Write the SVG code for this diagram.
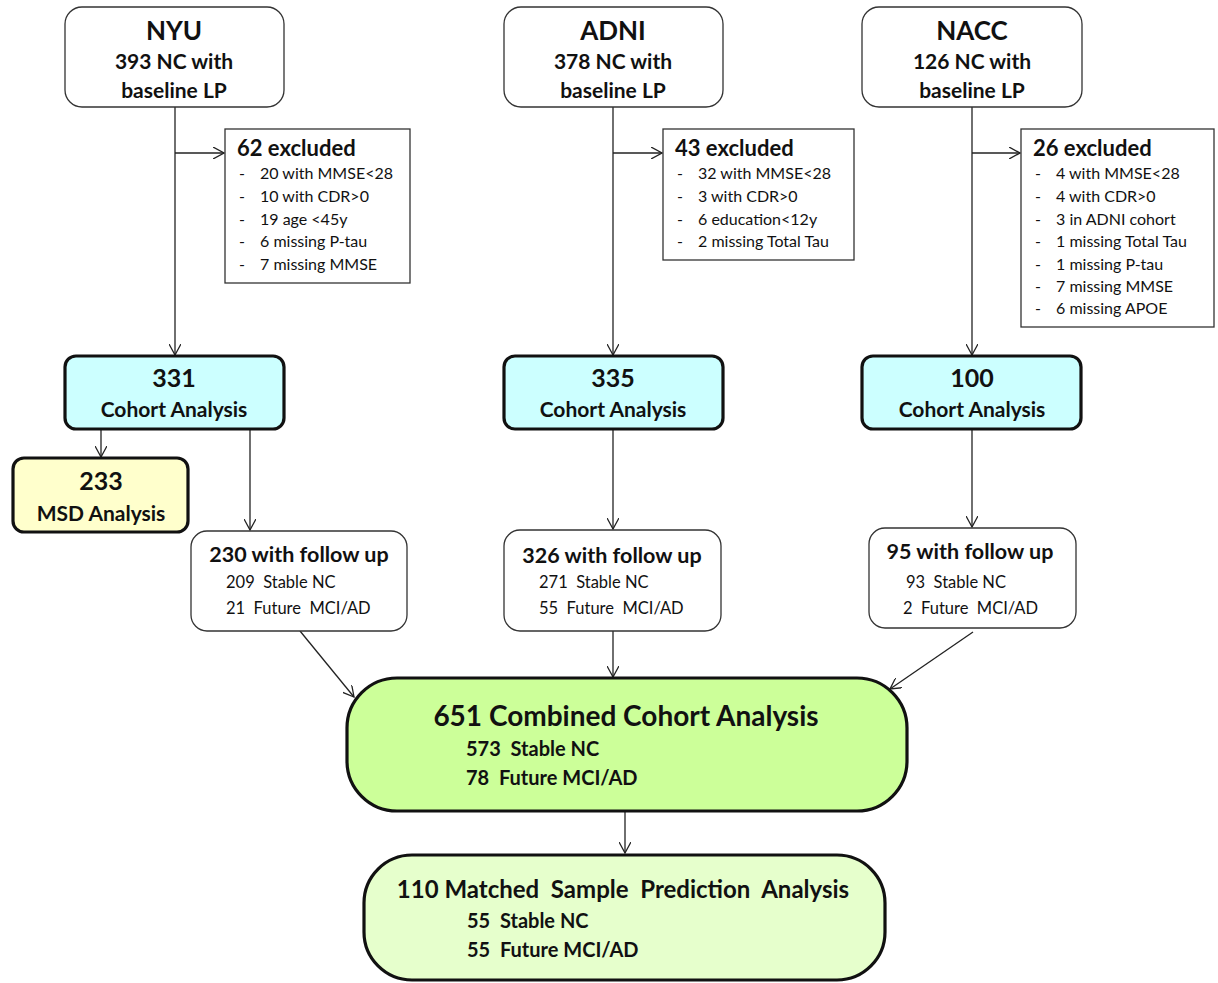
<svg xmlns="http://www.w3.org/2000/svg" width="1218" height="983" viewBox="0 0 1218 983">
<defs>
<marker id="arr" viewBox="0 0 12 12" refX="11" refY="6" markerWidth="12" markerHeight="12" markerUnits="userSpaceOnUse" orient="auto">
<path d="M0,0 L11,6 L0,12" fill="none" stroke="#222" stroke-width="1.3"/>
</marker>
<style>
text{font-family:Lato,"Liberation Sans",sans-serif;fill:#111;white-space:pre}
.b{font-weight:bold}
.thin{fill:#fff;stroke:#333;stroke-width:1.3}
.thick{stroke:#111;stroke-width:3.2}
.c{text-anchor:middle}
.t1{font-size:26px;font-weight:bold}
.t2{font-size:21px;font-weight:bold}
.t3{font-size:22px;font-weight:bold}
.it{font-size:16px}
.fu{font-size:16.5px}
.con{fill:none;stroke:#222;stroke-width:1.3;marker-end:url(#arr)}
.ln{fill:none;stroke:#222;stroke-width:1.3}
</style>
</defs>
<rect width="1218" height="983" fill="#fff"/>

<g id="connectors">
<line class="ln" x1="175" y1="107" x2="175" y2="153"/>
<line class="con" x1="175" y1="153" x2="175" y2="355"/>
<line class="con" x1="175" y1="153" x2="224" y2="153"/>
<line class="ln" x1="613" y1="107" x2="613" y2="153"/>
<line class="con" x1="613" y1="153" x2="613" y2="355"/>
<line class="con" x1="613" y1="153" x2="662" y2="153"/>
<line class="ln" x1="972" y1="107" x2="972" y2="153"/>
<line class="con" x1="972" y1="153" x2="972" y2="355"/>
<line class="con" x1="972" y1="153" x2="1020" y2="153"/>
<line class="con" x1="101" y1="429" x2="101" y2="457"/>
<line class="con" x1="250" y1="429" x2="250" y2="530"/>
<line class="con" x1="613" y1="429" x2="613" y2="529"/>
<line class="con" x1="972" y1="429" x2="972" y2="527"/>
<line class="con" x1="300" y1="631" x2="354" y2="697"/>
<line class="con" x1="613" y1="631" x2="613" y2="677"/>
<line class="con" x1="973" y1="632" x2="890" y2="689"/>
<line class="con" x1="625" y1="811" x2="625" y2="853"/>
</g>

<g id="nyu">
<rect class="thin" x="65" y="7" width="219" height="100" rx="17"/>
<text class="c t1" x="174" y="40">NYU</text>
<text class="c t2" x="174" y="69">393 NC with</text>
<text class="c t2" x="174" y="98">baseline LP</text>
</g>
<g id="adni">
<rect class="thin" x="504" y="7" width="219" height="100" rx="17"/>
<text class="c t1" x="613" y="40">ADNI</text>
<text class="c t2" x="613" y="69">378 NC with</text>
<text class="c t2" x="613" y="98">baseline LP</text>
</g>
<g id="nacc">
<rect class="thin" x="862" y="7" width="220" height="100" rx="17"/>
<text class="c t1" x="972" y="40">NACC</text>
<text class="c t2" x="972" y="69">126 NC with</text>
<text class="c t2" x="972" y="98">baseline LP</text>
</g>

<g id="nyu-excl">
<rect class="thin" x="225" y="129" width="185" height="154"/>
<text class="t3" x="237" y="156">62 excluded</text>
<g class="it">
<text x="239" y="179">-</text><text x="260" y="179">20 with MMSE&lt;28</text>
<text x="239" y="202">-</text><text x="260" y="202">10 with CDR&gt;0</text>
<text x="239" y="225">-</text><text x="260" y="225">19 age &lt;45y</text>
<text x="239" y="247">-</text><text x="260" y="247">6 missing P-tau</text>
<text x="239" y="270">-</text><text x="260" y="270">7 missing MMSE</text>
</g>
</g>
<g id="adni-excl">
<rect class="thin" x="663" y="129" width="191" height="131"/>
<text class="t3" x="675" y="156">43 excluded</text>
<g class="it">
<text x="677" y="179">-</text><text x="698" y="179">32 with MMSE&lt;28</text>
<text x="677" y="202">-</text><text x="698" y="202">3 with CDR&gt;0</text>
<text x="677" y="225">-</text><text x="698" y="225">6 education&lt;12y</text>
<text x="677" y="247">-</text><text x="698" y="247">2 missing Total Tau</text>
</g>
</g>
<g id="nacc-excl">
<rect class="thin" x="1021" y="129" width="193" height="198"/>
<text class="t3" x="1033" y="156">26 excluded</text>
<g class="it">
<text x="1035" y="179">-</text><text x="1056" y="179">4 with MMSE&lt;28</text>
<text x="1035" y="202">-</text><text x="1056" y="202">4 with CDR&gt;0</text>
<text x="1035" y="225">-</text><text x="1056" y="225">3 in ADNI cohort</text>
<text x="1035" y="247">-</text><text x="1056" y="247">1 missing Total Tau</text>
<text x="1035" y="270">-</text><text x="1056" y="270">1 missing P-tau</text>
<text x="1035" y="292">-</text><text x="1056" y="292">7 missing MMSE</text>
<text x="1035" y="314">-</text><text x="1056" y="314">6 missing APOE</text>
</g>
</g>

<g id="nyu-cohort">
<rect class="thick" fill="#ccffff" x="65" y="356" width="219" height="73" rx="11"/>
<text class="c b" x="174" y="387" font-size="25">331</text>
<text class="c b" x="174" y="417" font-size="21">Cohort Analysis</text>
</g>
<g id="adni-cohort">
<rect class="thick" fill="#ccffff" x="504" y="356" width="219" height="73" rx="11"/>
<text class="c b" x="613" y="387" font-size="25">335</text>
<text class="c b" x="613" y="417" font-size="21">Cohort Analysis</text>
</g>
<g id="nacc-cohort">
<rect class="thick" fill="#ccffff" x="862" y="356" width="219" height="73" rx="11"/>
<text class="c b" x="972" y="387" font-size="25">100</text>
<text class="c b" x="972" y="417" font-size="21">Cohort Analysis</text>
</g>

<g id="msd">
<rect class="thick" fill="#ffffcc" x="13" y="458" width="175" height="74" rx="11"/>
<text class="c b" x="101" y="490" font-size="25">233</text>
<text class="c b" x="101" y="521" font-size="21">MSD Analysis</text>
</g>

<g id="nyu-fu">
<rect class="thin" x="191" y="531" width="216" height="100" rx="16"/>
<text class="c b" x="299" y="562" font-size="21.5">230 with follow up</text>
<text class="fu" x="226" y="588">209  Stable NC</text>
<text class="fu" x="226" y="614">21  Future  MCI/AD</text>
</g>
<g id="adni-fu">
<rect class="thin" x="504" y="530" width="217" height="101" rx="16"/>
<text class="c b" x="612" y="563" font-size="21.5">326 with follow up</text>
<text class="fu" x="539" y="588">271  Stable NC</text>
<text class="fu" x="539" y="614">55  Future  MCI/AD</text>
</g>
<g id="nacc-fu">
<rect class="thin" x="869" y="528" width="207" height="100" rx="16"/>
<text class="c b" x="970" y="559" font-size="21.5">95 with follow up</text>
<text class="fu" x="906" y="588">93  Stable NC</text>
<text class="fu" x="903" y="614">2  Future  MCI/AD</text>
</g>

<g id="combined">
<rect class="thick" fill="#ccff99" x="347" y="678" width="560" height="133" rx="50"/>
<text class="c b" x="626" y="726" font-size="28">651 Combined Cohort Analysis</text>
<text class="b" x="466" y="756" font-size="20">573  Stable NC</text>
<text class="b" x="466" y="785" font-size="20">78  Future MCI/AD</text>
</g>

<g id="matched">
<rect class="thick" fill="#e6ffcc" x="364" y="855" width="521" height="125" rx="48"/>
<text class="c b" x="623" y="898" font-size="24">110 Matched  Sample  Prediction  Analysis</text>
<text class="b" x="467" y="928" font-size="20">55  Stable NC</text>
<text class="b" x="467" y="957" font-size="20">55  Future MCI/AD</text>
</g>
</svg>
